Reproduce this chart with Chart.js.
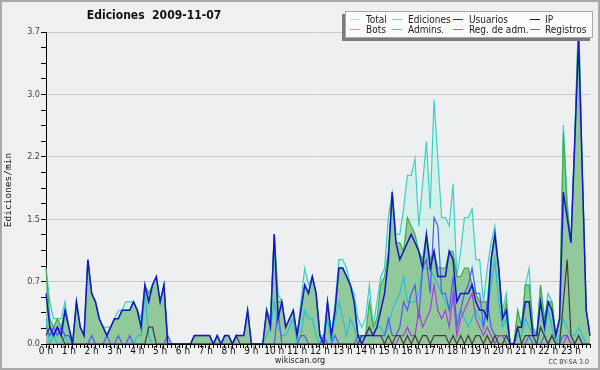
<!DOCTYPE html>
<html>
<head>
<meta charset="utf-8">
<script src="https://cdn.jsdelivr.net/npm/chart.js@4.4.1/dist/chart.umd.min.js"></script>
<style>
  html, body { margin: 0; padding: 0; background: #f0f0f0; }
  #wrap { position: relative; width: 600px; height: 370px; }
</style>
</head>
<body>
<div id="wrap"><canvas id="chart" width="600" height="370"></canvas></div>
<script>
// edits per minute, one value per 10 minutes (0:00 .. 23:50)
const hourTicks = ['0 h','1 h','2 h','3 h','4 h','5 h','6 h','7 h','8 h','9 h','10 h','11 h',
  '12 h','13 h','14 h','15 h','16 h','17 h','18 h','19 h','20 h','21 h','22 h','23 h'];
const yTickLabels = ['0.0', '0.7', '1.5', '2.2', '3.0', '3.7'];

const total = [
  0.9,0.5,0.3,0.3,0.3,0.5, 0.2,0,0.5,0.2,0.1,1.0,
  0.6,0.5,0.3,0.2,0.2,0.2, 0.3,0.4,0.4,0.5,0.5,0.5,
  0.4,0.3,0.7,0.6,0.7,0.8, 0.5,0.7,0.1,0,0,0,
  0,0,0,0.1,0.1,0.1, 0.1,0.1,0,0.1,0,0.1,
  0.1,0,0.1,0.1,0.1,0.4, 0,0,0,0,0.4,0.3,
  1.3,0.6,0.5,0.2,0.3,0.4, 0.1,0.5,0.9,0.7,0.8,0.6,
  0.1,0.1,0.5,0.1,0.5,1.0, 1.0,0.9,0.7,0.6,0.3,0.2,
  0.3,0.7,0.2,0.5,0.8,0.9, 1.5,1.8,1.3,1.3,1.6,2.0,
  2.0,2.2,1.4,1.9,2.4,1.6, 2.9,2.2,1.5,1.5,1.4,1.9,
  0.8,1.1,1.5,1.5,1.6,1.0, 1.0,0.5,0.9,1.2,1.4,0.9,
  0.4,0.6,0,0,0.4,0.2, 0.7,0.9,0.2,0.1,0.7,0.3,
  0.6,0.5,0.1,0.3,2.6,1.7, 1.2,2.5,3.9,2.0,0.4,0.1
];
const ediciones = [
  0.9,0.3,0.2,0.3,0.2,0.4, 0.2,0,0.5,0.2,0.1,1.0,
  0.6,0.5,0.3,0.2,0.1,0.2, 0.3,0.3,0.4,0.4,0.4,0.5,
  0.4,0.2,0.7,0.6,0.7,0.8, 0.5,0.7,0,0,0,0,
  0,0,0,0.1,0.1,0.1, 0.1,0.1,0,0.1,0,0.1,
  0.1,0,0.1,0.1,0.1,0.4, 0,0,0,0,0.4,0.3,
  1.3,0.5,0.5,0.2,0.3,0.4, 0.1,0.4,0.7,0.6,0.8,0.6,
  0.1,0,0.5,0.1,0.4,0.9, 0.9,0.8,0.7,0.5,0.1,0.1,
  0.1,0.5,0.2,0.3,0.7,0.8, 1.1,1.8,1.2,1.2,1.1,1.5,
  1.4,1.3,1.1,1.0,1.3,1.0, 1.1,0.9,0.9,0.9,1.1,1.1,
  0.8,0.8,0.9,0.9,0.7,0.6, 0.5,0.5,0.5,1.0,1.3,0.9,
  0.3,0.5,0,0,0.4,0.2, 0.7,0.7,0.2,0.1,0.7,0.3,
  0.5,0.5,0.1,0.3,2.5,1.6, 1.2,2.4,3.9,2.0,0.4,0.1
];
const usuarios = [
  0.6,0.2,0.1,0.2,0.1,0.4, 0.2,0,0.5,0.2,0.1,1.0,
  0.6,0.5,0.3,0.2,0.1,0.2, 0.3,0.3,0.4,0.4,0.4,0.5,
  0.4,0.2,0.7,0.5,0.7,0.8, 0.5,0.7,0,0,0,0,
  0,0,0,0.1,0.1,0.1, 0.1,0.1,0,0.1,0,0.1,
  0.1,0,0.1,0.1,0.1,0.4, 0,0,0,0,0.4,0.2,
  1.3,0.3,0.5,0.2,0.3,0.4, 0.1,0.4,0.7,0.6,0.8,0.6,
  0.1,0,0.5,0.1,0.4,0.9, 0.9,0.8,0.7,0.5,0.1,0,
  0.1,0.1,0.1,0.2,0.4,0.6, 1.0,1.8,1.2,1.0,1.1,1.2,
  1.3,1.2,1.1,0.9,1.3,0.9, 1.1,0.8,0.8,0.8,1.1,1.0,
  0.5,0.6,0.6,0.6,0.7,0.5, 0.4,0.4,0.3,1.0,1.3,0.9,
  0.3,0.4,0,0,0.2,0.2, 0.5,0.5,0.1,0.1,0.5,0.2,
  0.5,0.4,0.1,0.3,1.8,1.5, 1.2,2.4,3.6,2.0,0.4,0.1
];
const ip = [
  0.1,0.2,0.1,0.2,0.1,0, 0,0,0,0,0,0,
  0,0,0,0,0,0, 0,0,0,0,0,0,
  0,0,0,0.2,0.2,0, 0,0,0,0,0,0,
  0,0,0,0,0,0, 0,0,0,0,0,0,
  0,0,0.1,0,0,0, 0,0,0,0,0,0,
  0,0,0,0,0,0, 0,0,0,0,0,0,
  0,0,0,0,0,0, 0,0,0,0,0,0.1,
  0.1,0.2,0.1,0.1,0.1,0, 0.1,0,0.1,0.1,0,0.1,
  0,0.1,0,0.1,0.1,0, 0.1,0.1,0.1,0.1,0,0.1,
  0,0.1,0,0.1,0,0.1, 0.1,0,0.1,0,0.1,0,
  0,0.1,0,0,0.2,0, 0.1,0.1,0.1,0,0.2,0.1,
  0,0.1,0,0,0.5,1.0, 0.1,0,0.1,0,0,0
];
const bots = [
  0,0,0,0,0,0, 0,0,0,0,0,0,
  0,0,0,0,0,0, 0,0,0,0,0,0,
  0,0,0,0,0,0, 0,0,0,0,0,0,
  0,0,0,0,0,0, 0,0,0,0,0,0,
  0,0,0,0,0,0, 0,0,0,0,0,0,
  0,0,0,0,0,0, 0,0,0,0,0,0,
  0,0,0,0,0,0, 0,0,0,0,0,0,
  0,0,0,0,0,0, 0,0,0,0,0,0,
  0,0,0,0,0,0, 0,0,0,0,0,0,
  0,0,0,0,0,0, 0,0,0,0,0,0,
  0,0,0,0,0,0, 0,0,0,0,0,0,
  0,0,0,0,0,0, 0,0,0,0,0,0
];
const admins = [
  0.3,0,0.1,0,0,0.1, 0,0,0,0,0,0,
  0,0,0,0,0,0, 0,0,0,0,0,0,
  0.1,0.1,0.6,0.1,0,0, 0,0,0,0,0,0,
  0,0,0,0,0,0, 0,0,0,0,0,0,
  0,0,0,0,0,0, 0,0,0,0,0.1,0.2,
  0.5,0.2,0.1,0.1,0.2,0.3, 0,0.1,0.4,0.3,0.3,0.1,
  0,0.1,0.3,0,0.3,0.5, 0.3,0.1,0.3,0.2,0,0.1,
  0.1,0.1,0.1,0.2,0.2,0.1, 0.2,0.4,0.5,0.6,0.8,0.5,
  0.5,0.5,0.6,0.9,0.9,0.9, 0.8,0.7,0.6,0.5,0.4,0.5,
  0.3,0.4,0.3,0.2,0.3,0.4, 0.3,0.2,0.4,0.7,1.0,0.5,
  0.2,0.3,0,0,0.1,0.1, 0.3,0.2,0.1,0,0.2,0.1,
  0.4,0.2,0,0.1,0.3,0.2, 0.1,0.1,0.2,0.1,0,0
];
const regAdm = [
  0,0,0,0,0,0, 0,0,0,0,0,0,
  0,0,0,0,0,0, 0,0,0,0,0,0,
  0,0,0,0,0,0, 0,0,0,0,0,0,
  0,0,0,0,0,0, 0,0,0,0,0,0,
  0,0,0,0,0,0, 0,0,0,0,0,0,
  0,0,0,0,0,0, 0,0,0,0,0,0,
  0,0,0,0,0,0, 0,0,0,0,0,0,
  0,0,0,0,0,0, 0,0,0,0.1,0.1,0.2,
  0.1,0.1,0.4,0.2,0.3,0.4, 0.7,0.4,0.3,0.4,0.2,0.6,
  0.1,0.3,0.4,0.5,0.6,0.3, 0.2,0.1,0.2,0.1,0,0.1,
  0.1,0,0,0,0,0, 0,0,0,0,0,0,
  0,0.1,0,0,0,0.1, 0,0,0,0,0,0
];
const registros = [
  0.2,0.1,0.2,0.1,0.2,0.1, 0.1,0,0,0,0,0,
  0.1,0,0,0,0.1,0, 0,0.1,0,0,0.1,0,
  0,0,0,0,0,0, 0,0,0.1,0,0,0,
  0,0,0,0,0,0, 0,0,0,0,0,0,
  0,0,0,0,0,0, 0,0,0,0,0,0,
  0,0.4,0,0,0,0, 0,0.1,0.1,0,0,0,
  0,0.1,0,0,0.1,0, 0,0,0,0,0.1,0.1,
  0.1,0.2,0.1,0.1,0.1,0.1, 0.3,0.1,0.1,0.2,0.5,0.4,
  0.6,0.7,0.3,0.9,1.0,0.6, 1.5,1.4,0.6,0.6,0.4,0.8,
  0.2,0.4,0.6,0.7,0.9,0.6, 0.6,0.2,0.5,0.2,0.1,0.1,
  0.1,0.1,0,0,0,0, 0,0.1,0,0,0,0.1,
  0,0.1,0,0,0.1,0.1, 0,0,0.1,0,0,0
];

// time categories 0:00 .. 23:50
var times = [];
for (var h = 0; h < 24; h++) {
    for (var m = 0; m < 60; m += 10) times.push(h + ':' + (m < 10 ? '0' : '') + m);
}

var FONT = "'DejaVu Sans Condensed', 'DejaVu Sans', sans-serif";
Chart.defaults.font.family = FONT;

// legend entries: [label, colour]
var legendItems = [
    ['Total', '#a6e6de'], ['Ediciones', '#84d088'], ['Usuarios', '#2a2ad0'], ['IP', '#202020'],
    ['Bots', '#f0a040'], ['Admins.', '#40c8dc'], ['Reg. de adm.', '#d048e0'], ['Registros', '#6868f0']
];

var decor = {
    id: 'decor',
    beforeDraw: function (chart) {
        var ctx = chart.ctx, a = chart.chartArea;
        ctx.save();
        ctx.fillStyle = '#f0f0f0';
        ctx.fillRect(0, 0, chart.width, chart.height);
        ctx.fillStyle = '#eeeff1';
        ctx.fillRect(a.left, a.top, a.right - a.left, a.bottom - a.top);
        ctx.restore();
    },
    afterDraw: function (chart) {
        var ctx = chart.ctx;
        ctx.save();
        // frame
        ctx.strokeStyle = '#a9a9a9';
        ctx.lineWidth = 2;
        ctx.strokeRect(1, 1, chart.width - 2, chart.height - 2);

        // title
        ctx.fillStyle = '#111';
        ctx.font = "bold 12px " + FONT;
        ctx.textAlign = 'center';
        ctx.textBaseline = 'middle';
        ctx.fillText('Ediciones  2009-11-07', 154, 16);

        // y axis title
        ctx.save();
        ctx.translate(9, 190);
        ctx.rotate(-Math.PI / 2);
        ctx.font = "9.5px 'DejaVu Sans Mono', monospace";
        ctx.fillStyle = '#111';
        ctx.fillText('Ediciones/min', 0, 0);
        ctx.restore();

        // footer
        ctx.font = "9px " + FONT;
        ctx.fillStyle = '#222';
        ctx.fillText('wikiscan.org', 300, 361);
        ctx.font = "7px " + FONT;
        ctx.fillStyle = '#444';
        ctx.textAlign = 'right';
        ctx.fillText('CC BY-SA 3.0', 589, 362);

        // legend box
        ctx.fillStyle = '#7c7c7c';
        ctx.fillRect(342, 14, 248, 27);
        ctx.fillStyle = '#fbfbfb';
        ctx.fillRect(345, 11, 248, 27);
        ctx.strokeStyle = '#a8a8a8';
        ctx.lineWidth = 1;
        ctx.strokeRect(345.5, 11.5, 247, 26);
        var lineX = [350, 392, 453, 530], textX = [366, 408, 469, 545], rowY = [19.5, 29.5];
        ctx.font = "10px " + FONT;
        ctx.textAlign = 'left';
        legendItems.forEach(function (it, k) {
            var c = k % 4, r = Math.floor(k / 4);
            ctx.strokeStyle = it[1];
            ctx.lineWidth = 1;
            ctx.beginPath();
            ctx.moveTo(lineX[c], rowY[r]);
            ctx.lineTo(lineX[c] + 10, rowY[r]);
            ctx.stroke();
            ctx.fillStyle = '#222';
            ctx.fillText(it[0], textX[c], rowY[r] + 0.5);
        });
        ctx.restore();
    }
};

function line(label, data, color, width, order) {
    return { label: label, data: data, borderColor: color, borderWidth: width, fill: false,
             pointRadius: 0, tension: 0, order: order };
}

var ctx = document.getElementById('chart').getContext('2d');
var chart = new Chart(ctx, {
    type: 'line',
    data: {
        labels: times,
        datasets: [
            line('Usuarios', usuarios, '#1414cc', 1.5, 1),
            line('IP', ip, '#3c3c3c', 1.2, 2),
            line('Reg. de adm.', regAdm, '#b038e0', 1.2, 3),
            line('Registros', registros, '#5656f0', 1.2, 4),
            line('Admins.', admins, '#22c2de', 1.2, 5),
            line('Bots', bots, '#f0a040', 1.2, 6),
            { label: 'Ediciones', data: ediciones, borderColor: '#3cae44', borderWidth: 1.2,
              backgroundColor: '#92c99a', fill: 'origin', pointRadius: 0, tension: 0, order: 7 },
            { label: 'Total', data: total, borderColor: '#3ccfc4', borderWidth: 1.2,
              backgroundColor: 'rgba(175,240,225,0.4)', fill: 'origin', pointRadius: 0, tension: 0, order: 8 }
        ]
    },
    options: {
        responsive: false,
        animation: false,
        events: [],
        layout: { padding: { top: 32, right: 10, left: 0, bottom: 0 } },
        plugins: { legend: { display: false }, tooltip: { enabled: false }, title: { display: false } },
        scales: {
            x: {
                type: 'category',
                offset: false,
                z: 1,
                grid: { drawOnChartArea: false, tickLength: 4, color: '#000', tickColor: '#000' },
                border: { color: '#000', width: 1 },
                ticks: {
                    autoSkip: false, maxRotation: 0, padding: -2,
                    font: { size: 10, lineHeight: 1 }, color: '#111',
                    callback: function (v, i) { return i % 6 === 0 ? hourTicks[i / 6] : ''; }
                },
                afterFit: function (s) { s.height = 26; }
            },
            y: {
                min: 0, max: 3.7,
                afterBuildTicks: function (s) {
                    var t = [];
                    for (var k = 0; k <= 20; k++) t.push({ value: k * 3.7 / 20 });
                    s.ticks = t;
                },
                grid: {
                    color: function (c) { return c.index % 4 === 0 ? '#c8c9cb' : 'rgba(0,0,0,0)'; },
                    tickColor: '#000', tickLength: 5
                },
                border: { color: '#000', width: 1 },
                ticks: {
                    autoSkip: false, padding: 1,
                    font: { size: 9 }, color: '#444',
                    callback: function (v, i) { return i % 4 === 0 ? yTickLabels[i / 4] : ''; }
                },
                afterFit: function (s) { s.width = 46; }
            }
        }
    },
    plugins: [decor]
});
</script>
</body>
</html>
